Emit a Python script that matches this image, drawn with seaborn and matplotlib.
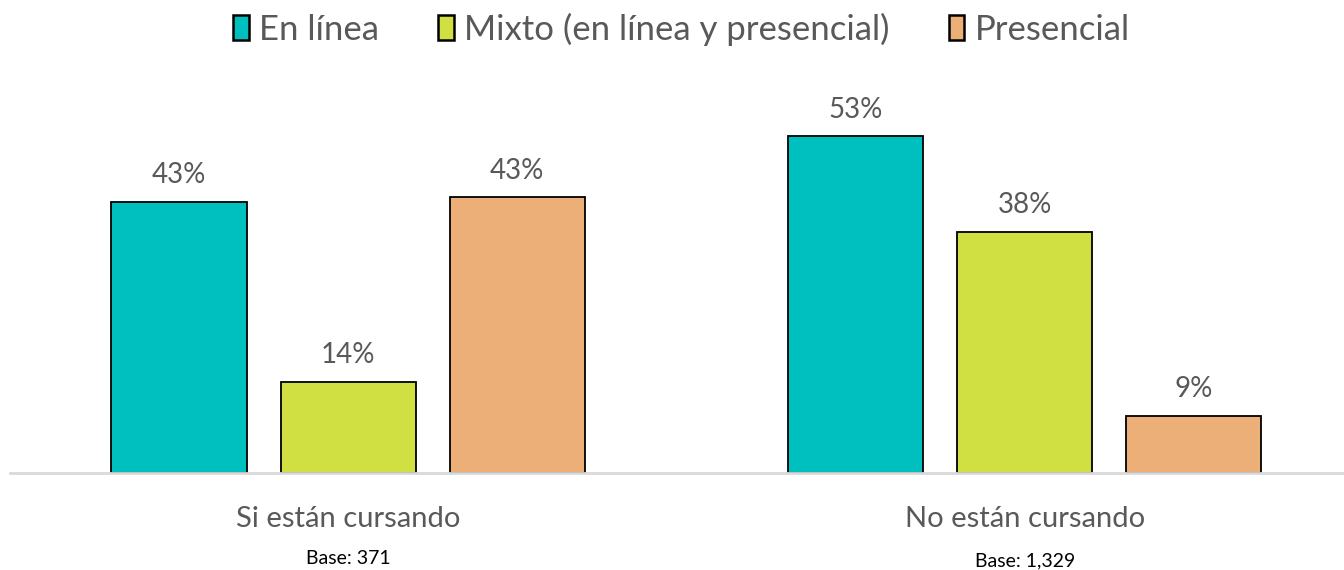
import pandas as pd
import seaborn as sns
import matplotlib.pyplot as plt
import matplotlib.transforms as mtransforms

sns.set_style("white")
plt.rcParams['font.family'] = ['Lato', 'DejaVu Sans']

# %% Data

grupos = ["Si están cursando", "No están cursando"]
modalidades = ["En línea", "Mixto (en línea y presencial)", "Presencial"]
si_cursando = [42.7, 14.3, 43.4]
no_cursando = [53.0, 37.9, 9.0]
bases = ["Base: 371", "Base: 1,329"]
colores = ["#00BFBF", "#D0E042", "#EDAF78"]

data = pd.DataFrame({
    'Grupo': [grupos[0]] * 3 + [grupos[1]] * 3,
    'Modalidad': modalidades * 2,
    'Pct': si_cursando + no_cursando,
})

texto = "#595959"

# %% Plot

fig = plt.figure(figsize=(13.44, 5.70), dpi=100)
ax = fig.add_axes([10 / 1344, 97 / 570, 1334 / 1344, 400 / 570])

sns.barplot(
    data=data,
    x='Grupo',
    y='Pct',
    hue='Modalidad',
    hue_order=modalidades,
    order=grupos,
    palette=colores,
    saturation=1,
    width=0.75,
    gap=0.2,
    edgecolor='black',
    linewidth=1.3,
    ax=ax,
)

for cont in ax.containers:
    ax.bar_label(cont, labels=[f"{v:.0f}%" for v in cont.datavalues],
                 padding=10, fontsize=20, color=texto)

ax.set_xlim(-0.5, 1.472)
ax.set_ylim(0, 63)
ax.set_ylabel('')
ax.set_xlabel('')
ax.set_yticks([])
sns.despine(left=True, right=True, top=True)
ax.spines['bottom'].set_color('#D9D9D9')
ax.spines['bottom'].set_linewidth(2)
ax.tick_params(axis='x', length=0, pad=24, labelsize=21, labelcolor=texto)

trans = mtransforms.blended_transform_factory(ax.transData, fig.transFigure)
for i, b in enumerate(bases):
    ax.text(i, 1 - 558 / 570 - 0.005 * i, b, transform=trans, ha='center', va='center',
            fontsize=14, color='black')

handles, labels = ax.get_legend_handles_labels()
ax.get_legend().remove()
leg = fig.legend(handles, labels, loc='center', bbox_to_anchor=(0.507, 1 - 29 / 570), ncol=3,
                 frameon=False, fontsize=25, labelcolor=texto, handlelength=0.45, handleheight=0.7,
                 handletextpad=0.3, columnspacing=1.7)
for h in leg.legend_handles:
    h.set_linewidth(1.8)

plt.savefig('out.png', dpi=100)
